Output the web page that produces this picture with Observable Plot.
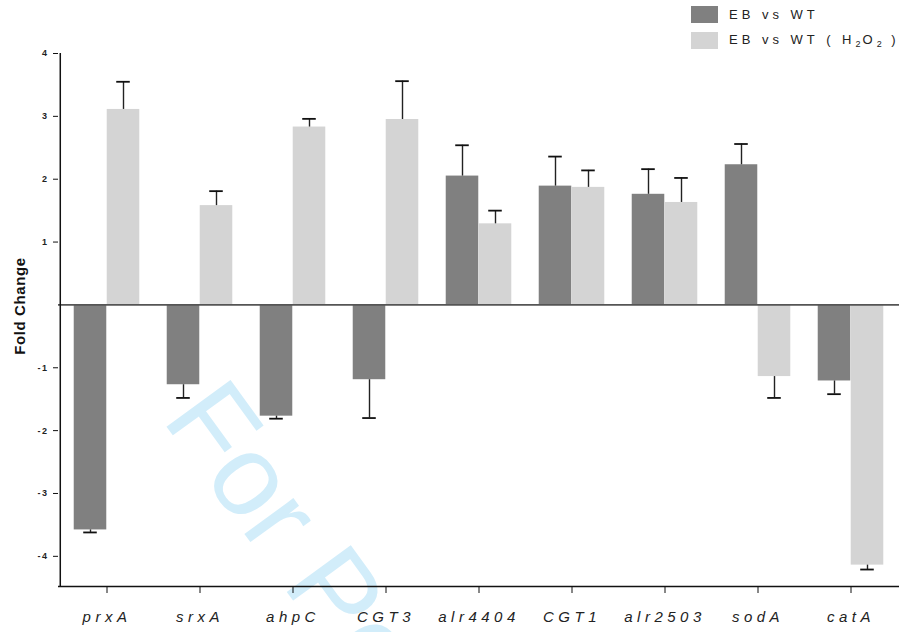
<!DOCTYPE html>
<html><head><meta charset="utf-8">
<script src="https://cdn.jsdelivr.net/npm/d3@7"></script>
<script src="https://cdn.jsdelivr.net/npm/@observablehq/plot@0.6"></script>
<style>
html,body{margin:0;padding:0;background:#fff;}
#wrap{position:relative;width:899px;height:632px;overflow:hidden;font-family:Arial,"Liberation Sans",Helvetica,sans-serif;}
#wm{position:absolute;left:165px;top:416px;transform-origin:0 0;transform:rotate(54deg) translateY(-0.8em);font-size:115px;color:rgb(210,237,250);white-space:nowrap;line-height:1;z-index:0;font-family:Arial,"Liberation Sans",sans-serif;}
#chart{position:absolute;left:0;top:0;z-index:1;}
.leg{position:absolute;left:691px;z-index:2;display:flex;align-items:center;}
.sw{width:27px;height:17px;margin-right:11px;}
.lt{font-size:13px;letter-spacing:4px;color:#222;white-space:nowrap;}
.lt sub{font-size:9px;vertical-align:-3px;letter-spacing:2px;}
.lt .last{letter-spacing:0;}
</style></head>
<body><div id="wrap"><div id="wm">For Peer Review</div><div id="chart"></div></div>
<script>
const genes = ["prxA","srxA","ahpC","CGT3","alr4404","CGT1","alr2503","sodA","catA"];
const series = ["EB vs WT","EB vs WT (H2O2)"];
const ebVsWt      = [-3.58,-1.27,-1.77,-1.19, 2.05, 1.89, 1.76, 2.23,-1.21];
const ebVsWtErr   = [ 0.04, 0.21, 0.04, 0.61, 0.49, 0.47, 0.40, 0.33, 0.21];
const ebVsWtH2O2    = [ 3.11, 1.58, 2.83, 2.95, 1.29, 1.87, 1.63,-1.14,-4.14];
const ebVsWtH2O2Err = [ 0.44, 0.23, 0.13, 0.61, 0.21, 0.27, 0.39, 0.34, 0.07];
const yTicks = [-4,-3,-2,-1,1,2,3,4];
const colors = ["#808080","#d4d4d4"];

const W = 899, H = 632, mL = 58, mR = 0, mT = 53, mB = 46;
const yMin = -4.48, yMax = 4;
const bw = (W - mL - mR) / genes.length;
const barW = 33, capW = 14;
const half = bw / 2;

function rowsFor(vals, errs, s) {
  return genes.map((g, i) => ({gene: g, series: s, value: vals[i], end: vals[i] + Math.sign(vals[i]) * errs[i]}));
}
const dark = rowsFor(ebVsWt, ebVsWtErr, series[0]);
const light = rowsFor(ebVsWtH2O2, ebVsWtH2O2Err, series[1]);

const plot = Plot.plot({
  width: W, height: H,
  marginLeft: mL, marginRight: mR, marginTop: mT, marginBottom: mB,
  style: {background: "transparent", fontFamily: "Arial, 'Liberation Sans', sans-serif", color: "#222"},
  x: {type: "band", domain: genes, padding: 0, label: null},
  y: {domain: [yMin, yMax], label: null},
  color: {domain: series, range: colors},
  marks: [
    Plot.barY(dark, {x: "gene", y: "value", fill: "series", insetLeft: half - barW, insetRight: half}),
    Plot.barY(light, {x: "gene", y: "value", fill: "series", insetLeft: half, insetRight: half - barW}),
    Plot.ruleX(dark, {x: "gene", y1: "value", y2: "end", dx: -barW / 2, stroke: "#222", strokeWidth: 1.4}),
    Plot.ruleX(light, {x: "gene", y1: "value", y2: "end", dx: barW / 2, stroke: "#222", strokeWidth: 1.4}),
    Plot.tickY(dark, {x: "gene", y: "end", stroke: "#111", strokeWidth: 1.8,
      insetLeft: half - barW / 2 - capW / 2, insetRight: half + barW / 2 - capW / 2}),
    Plot.tickY(light, {x: "gene", y: "end", stroke: "#111", strokeWidth: 1.8,
      insetLeft: half + barW / 2 - capW / 2, insetRight: half - barW / 2 - capW / 2}),
    Plot.ruleY([0], {stroke: "#555", strokeWidth: 1.6}),
    Plot.ruleY([yMin], {stroke: "#111", strokeWidth: 1.5}),
    Plot.ruleX([genes[0]], {x: d => d, y1: yMin, y2: yMax, dx: -half, stroke: "#111", strokeWidth: 1.5}),
    Plot.axisY(yTicks, {tickSize: 5, tickPadding: 5, fontSize: 9, fontWeight: "bold", stroke: "#111",
      tickFormat: d => (d < 0 ? "-" + Math.abs(d) : String(d)), label: null}),
    Plot.axisX({anchor: "bottom", tickSize: 7, tickPadding: 18, fontSize: 15, fontStyle: "italic", stroke: "#111", label: null})
  ]
});
document.getElementById("chart").appendChild(plot);

const svg = d3.select(plot);
svg.selectAll('g[aria-label="x-axis tick label"] text').style("letter-spacing", "4.5px");
svg.selectAll('g[aria-label="y-axis tick label"] text').style("letter-spacing", "1.5px");
svg.append("text")
  .attr("transform", "translate(25,306) rotate(-90)")
  .attr("text-anchor", "middle")
  .attr("font-size", 15).attr("font-weight", "bold")
  .attr("letter-spacing", "0.6px").attr("fill", "#111")
  .text("Fold Change");

// legend
const wrap = document.getElementById("wrap");
series.forEach((s, i) => {
  const row = document.createElement("div");
  row.className = "leg";
  row.style.top = (6 + i * 26) + "px";
  const sw = document.createElement("div");
  sw.className = "sw"; sw.style.background = colors[i];
  const t = document.createElement("div");
  t.className = "lt";
  let html = s.replace("(", "( ").replace(")", " )").replace(/(\d)/g, "<sub>$1</sub>");
  html = html.replace(/(.)$/, '<span class="last">$1</span>');
  t.innerHTML = html;
  row.appendChild(sw); row.appendChild(t);
  wrap.appendChild(row);
});
</script>
</body></html>
